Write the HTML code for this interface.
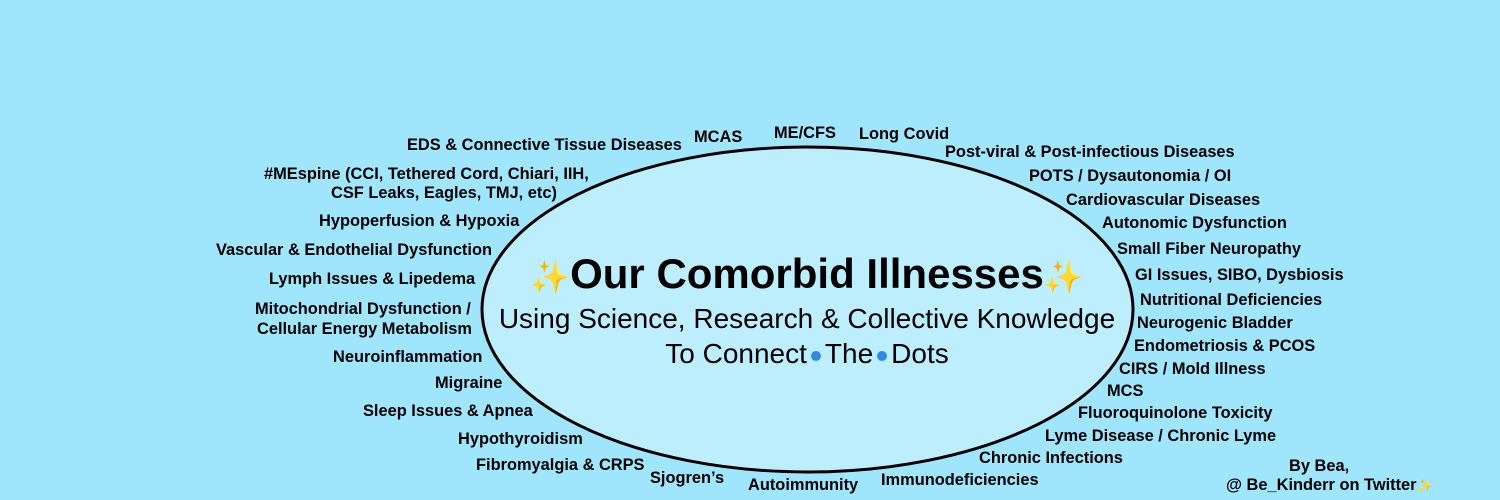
<!DOCTYPE html>
<html><head><meta charset="utf-8"><style>
body{margin:0;width:1500px;height:500px;background:#9fe6fd;position:relative;overflow:hidden;font-family:"Liberation Sans",Arial,sans-serif}
.l{position:absolute;font-weight:bold;font-size:16.4px;line-height:18px;white-space:nowrap;color:#000}
.c{position:absolute;left:0;width:1614px;text-align:center;white-space:nowrap}
.dot{display:inline-block;width:10px;height:10px;border-radius:50%;background:#2f8ae0;vertical-align:middle;margin:0 4px}
.sp{font-size:32px}
</style></head><body>
<svg width="1500" height="500" style="position:absolute;left:0;top:0">
<ellipse cx="807.5" cy="309.5" rx="325.5" ry="162.5" fill="#bdeefe" stroke="#000" stroke-width="3"/>
</svg>
<div class="c" style="top:250px;font-size:42px;font-weight:bold;line-height:48px"><span class="sp">✨</span>Our Comorbid Illnesses<span class="sp">✨</span></div>
<div class="c" style="top:303px;font-size:28px;line-height:32px">Using Science, Research &amp; Collective Knowledge</div>
<div class="c" style="top:338px;font-size:28px;line-height:32px">To Connect<span class="dot"></span>The<span class="dot"></span>Dots</div>
<div class="l" style="left:407px;top:136px">EDS &amp; Connective Tissue Diseases</div>
<div class="l" style="left:694px;top:128px">MCAS</div>
<div class="l" style="left:774px;top:124px">ME/CFS</div>
<div class="l" style="left:859px;top:125px">Long Covid</div>
<div class="l" style="left:945px;top:143px">Post-viral &amp; Post-infectious Diseases</div>
<div class="l" style="left:264px;top:165px">#MEspine (CCI, Tethered Cord, Chiari, IIH,</div>
<div class="l" style="left:331px;top:184px">CSF Leaks, Eagles, TMJ, etc)</div>
<div class="l" style="left:1029px;top:167px">POTS / Dysautonomia / OI</div>
<div class="l" style="left:1066px;top:191px">Cardiovascular Diseases</div>
<div class="l" style="left:1102px;top:214px">Autonomic Dysfunction</div>
<div class="l" style="left:319px;top:212px">Hypoperfusion &amp; Hypoxia</div>
<div class="l" style="left:216px;top:241px">Vascular &amp; Endothelial Dysfunction</div>
<div class="l" style="left:1117px;top:240px">Small Fiber Neuropathy</div>
<div class="l" style="left:269px;top:270px">Lymph Issues &amp; Lipedema</div>
<div class="l" style="left:1135px;top:266px">GI Issues, SIBO, Dysbiosis</div>
<div class="l" style="left:1140px;top:291px">Nutritional Deficiencies</div>
<div class="l" style="left:255px;top:300px">Mitochondrial Dysfunction /</div>
<div class="l" style="left:257px;top:320px">Cellular Energy Metabolism</div>
<div class="l" style="left:1137px;top:314px">Neurogenic Bladder</div>
<div class="l" style="left:1134px;top:337px">Endometriosis &amp; PCOS</div>
<div class="l" style="left:333px;top:348px">Neuroinflammation</div>
<div class="l" style="left:1119px;top:360px">CIRS / Mold Illness</div>
<div class="l" style="left:435px;top:374px">Migraine</div>
<div class="l" style="left:1107px;top:382px">MCS</div>
<div class="l" style="left:363px;top:402px">Sleep Issues &amp; Apnea</div>
<div class="l" style="left:1078px;top:404px">Fluoroquinolone Toxicity</div>
<div class="l" style="left:458px;top:430px">Hypothyroidism</div>
<div class="l" style="left:1045px;top:427px">Lyme Disease / Chronic Lyme</div>
<div class="l" style="left:979px;top:449px">Chronic Infections</div>
<div class="l" style="left:476px;top:456px">Fibromyalgia &amp; CRPS</div>
<div class="l" style="left:650px;top:469px">Sjogren’s</div>
<div class="l" style="left:748px;top:476px">Autoimmunity</div>
<div class="l" style="left:881px;top:471px">Immunodeficiencies</div>
<div class="l" style="left:1289px;top:457px">By Bea,</div>
<div class="l" style="left:1226px;top:476px">@ Be_Kinderr on Twitter<span style="font-size:13px">✨</span></div>
</body></html>
